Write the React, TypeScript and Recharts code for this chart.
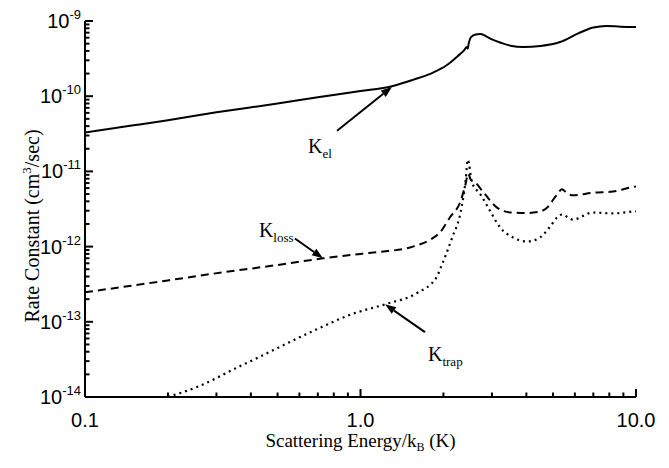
import { LineChart, Line, XAxis, YAxis, ReferenceLine } from 'recharts';

// K_el (solid)
const elEnergy = [0.1, 0.15, 0.2, 0.3, 0.5, 0.7, 1.0, 1.3, 1.55, 1.8, 2.06, 2.25, 2.38, 2.43, 2.45, 2.47, 2.52, 2.62, 2.72, 2.85, 3.0, 3.25, 3.5, 3.9, 4.5, 5.3, 6.2, 7.0, 7.8, 8.8, 10];
const elRate = [3.3e-11, 4.1e-11, 4.8e-11, 6.1e-11, 8.0e-11, 9.7e-11, 1.17e-10, 1.36e-10, 1.65e-10, 2.0e-10, 2.6e-10, 3.4e-10, 4.1e-10, 4.5e-10, 4.3e-10, 5.0e-10, 6.1e-10, 6.6e-10, 6.7e-10, 6.3e-10, 5.7e-10, 5.1e-10, 4.7e-10, 4.5e-10, 4.65e-10, 5.25e-10, 6.9e-10, 8.2e-10, 8.6e-10, 8.4e-10, 8.3e-10];

// K_loss (dashed)
const lossEnergy = [0.1, 0.2, 0.284, 0.5, 0.731, 1.0, 1.18, 1.55, 1.8, 1.944, 2.11, 2.3, 2.4, 2.46, 2.52, 2.6, 2.78, 3.13, 3.49, 4.03, 4.48, 4.8, 5.0, 5.17, 5.38, 5.6, 5.9, 6.98, 8.25, 9.75, 10];
const lossRate = [2.47e-13, 3.55e-13, 4.3e-13, 5.7e-13, 6.98e-13, 8.0e-13, 8.5e-13, 1.0e-12, 1.25e-12, 1.55e-12, 2.44e-12, 3.9e-12, 6.5e-12, 9.3e-12, 7.6e-12, 7.2e-12, 5.4e-12, 3.3e-12, 2.85e-12, 2.8e-12, 2.93e-12, 3.4e-12, 4.2e-12, 4.9e-12, 5.8e-12, 5.2e-12, 4.8e-12, 5.2e-12, 5.4e-12, 6.2e-12, 6.3e-12];

// K_trap (dotted)
const trapEnergy = [0.2, 0.26, 0.366, 0.407, 0.481, 0.695, 0.916, 1.248, 1.6, 1.895, 1.944, 2.14, 2.33, 2.41, 2.45, 2.54, 2.72, 2.95, 3.21, 3.58, 4.03, 4.48, 4.88, 5.17, 5.38, 5.9, 6.98, 8.25, 9.75, 10];
const trapRate = [1.0e-14, 1.4e-14, 2.58e-14, 3.1e-14, 4.18e-14, 7.98e-14, 1.24e-13, 1.74e-13, 2.4e-13, 4.0e-13, 5.0e-13, 1.25e-12, 3.4e-12, 7.8e-12, 1.43e-11, 7.1e-12, 5.0e-12, 3.0e-12, 1.8e-12, 1.32e-12, 1.17e-12, 1.32e-12, 1.85e-12, 2.44e-12, 2.67e-12, 2.29e-12, 2.84e-12, 2.76e-12, 2.93e-12, 2.95e-12];

const xMajor = [0.1, 1, 10];
const xMajorLabels = ['0.1', '1.0', '10.0'];
const yMajor = [1e-14, 1e-13, 1e-12, 1e-11, 1e-10, 1e-9];
const minorSteps = [2, 3, 4, 5, 6, 7, 8, 9];

const toPoints = (xs: number[], ys: number[]) => xs.map((x, i) => ({ x, y: ys[i] }));
const elData = toPoints(elEnergy, elRate);
const lossData = toPoints(lossEnergy, lossRate);
const trapData = toPoints(trapEnergy, trapRate);

const xMinor = xMajor.slice(0, -1).flatMap((d) => minorSteps.map((m) => m * d));
const yMinor = yMajor.slice(0, -1).flatMap((d) => minorSteps.map((m) => m * d));

const SANS = '"Liberation Sans", Arial, sans-serif';
const SERIF = '"Liberation Serif", "Times New Roman", serif';

function YTick(props: any) {
  const { x, y, payload } = props;
  const e = Math.round(Math.log10(payload.value));
  return (
    <text x={x - 4} y={y + 7} textAnchor="end" fontFamily={SANS} fontSize={20} fill="#000">
      10<tspan dy={-9} fontSize={13}>{e}</tspan>
    </text>
  );
}

function XTick(props: any) {
  const { x, y, payload } = props;
  const idx = xMajor.findIndex((m) => Math.abs(m - payload.value) < 1e-9);
  return (
    <text x={x} y={y + 30} textAnchor="middle" fontFamily={SANS} fontSize={20} fill="#000">
      {xMajorLabels[idx]}
    </text>
  );
}

// inward tick marks, anchored at a zero-length segment on the axis
const yTickMark = (len: number) => (p: any) => (
  <line x1={p.x1} x2={p.x1 + len} y1={p.y1} y2={p.y1} stroke="#000" strokeWidth={2} />
);
const xTickMark = (len: number) => (p: any) => (
  <line x1={p.x1} x2={p.x1} y1={p.y1} y2={p.y1 - len} stroke="#000" strokeWidth={2} />
);

function arrowShape(sub: string, dx: number, dy: number) {
  return (p: any) => {
    const { x1, y1, x2, y2 } = p;
    const ang = Math.atan2(y2 - y1, x2 - x1);
    const L = 11;
    const W = 4;
    const bx = x2 - L * Math.cos(ang);
    const by = y2 - L * Math.sin(ang);
    const px = -Math.sin(ang) * W;
    const py = Math.cos(ang) * W;
    return (
      <g>
        <line x1={x1} y1={y1} x2={bx} y2={by} stroke="#000" strokeWidth={2} />
        <polygon points={`${x2},${y2} ${bx + px},${by + py} ${bx - px},${by - py}`} fill="#000" />
        <text x={x1 + dx} y={y1 + dy} fontFamily={SERIF} fontSize={20} fill="#000">
          K<tspan dy={5} fontSize={13}>{sub}</tspan>
        </text>
      </g>
    );
  };
}

export default function App() {
  return (
    <div style={{ position: 'absolute', left: 0, top: 0, background: '#fff' }}>
      <LineChart width={669} height={468} margin={{ top: 21, right: 33, bottom: 0, left: 0 }}>
        <XAxis
          dataKey="x"
          type="number"
          scale="log"
          domain={[0.1, 10]}
          ticks={xMajor}
          interval={0}
          tickSize={0}
          tickMargin={0}
          tickLine={false}
          tick={<XTick />}
          height={71}
          axisLine={{ stroke: '#000', strokeWidth: 2 }}
          allowDataOverflow
          label={{
            content: (p: any) => {
              const vb = p.viewBox;
              return (
                <text x={vb.x + vb.width / 2} y={vb.y + 50} textAnchor="middle" fontFamily={SERIF} fontSize={19} fill="#000">
                  Scattering Energy/k<tspan dy={4} fontSize={12}>B</tspan>
                  <tspan dy={-4}> (K)</tspan>
                </text>
              );
            },
          }}
        />
        <YAxis
          dataKey="y"
          type="number"
          scale="log"
          domain={[1e-14, 1e-9]}
          ticks={yMajor}
          interval={0}
          tickSize={0}
          tickMargin={0}
          tickLine={false}
          tick={<YTick />}
          width={85}
          axisLine={{ stroke: '#000', strokeWidth: 2 }}
          allowDataOverflow
          label={{
            content: () => (
              <text x={39} y={226} transform="rotate(-90, 39, 226)" textAnchor="middle" fontFamily={SERIF} fontSize={20} fill="#000">
                Rate Constant (cm<tspan dy={-8} fontSize={13}>3</tspan>
                <tspan dy={8}>/sec)</tspan>
              </text>
            ),
          }}
        />
        {[...yMajor, ...yMinor].map((v) => (
          <ReferenceLine
            key={`y${v}`}
            ifOverflow="visible"
            segment={[{ x: 0.1, y: v }, { x: 0.1, y: v }]}
            shape={yTickMark(yMajor.includes(v) ? 8 : 4.5)}
          />
        ))}
        {[...xMajor, ...xMinor].map((v) => (
          <ReferenceLine
            key={`x${v}`}
            ifOverflow="visible"
            segment={[{ x: v, y: 1e-14 }, { x: v, y: 1e-14 }]}
            shape={xTickMark(xMajor.includes(v) ? 8 : 4.5)}
          />
        ))}
        <Line data={elData} dataKey="y" type="monotone" stroke="#000" strokeWidth={2} dot={false} activeDot={false} isAnimationActive={false} />
        <Line data={lossData} dataKey="y" type="monotone" stroke="#000" strokeWidth={2} strokeDasharray="8 5" dot={false} activeDot={false} isAnimationActive={false} />
        <Line data={trapData} dataKey="y" type="monotone" stroke="#000" strokeWidth={2.2} strokeDasharray="2 4" dot={false} activeDot={false} isAnimationActive={false} />
        <ReferenceLine segment={[{ x: 0.822, y: 3.48e-11 }, { x: 1.3, y: 1.33e-10 }]} shape={arrowShape('el', -29, 22)} />
        <ReferenceLine segment={[{ x: 0.578, y: 1.28e-12 }, { x: 0.731, y: 6.98e-13 }]} shape={arrowShape('loss', -36, -2)} />
        <ReferenceLine segment={[{ x: 1.714, y: 7.3e-14 }, { x: 1.227, y: 1.71e-13 }]} shape={arrowShape('trap', 3, 29)} />
      </LineChart>
    </div>
  );
}
